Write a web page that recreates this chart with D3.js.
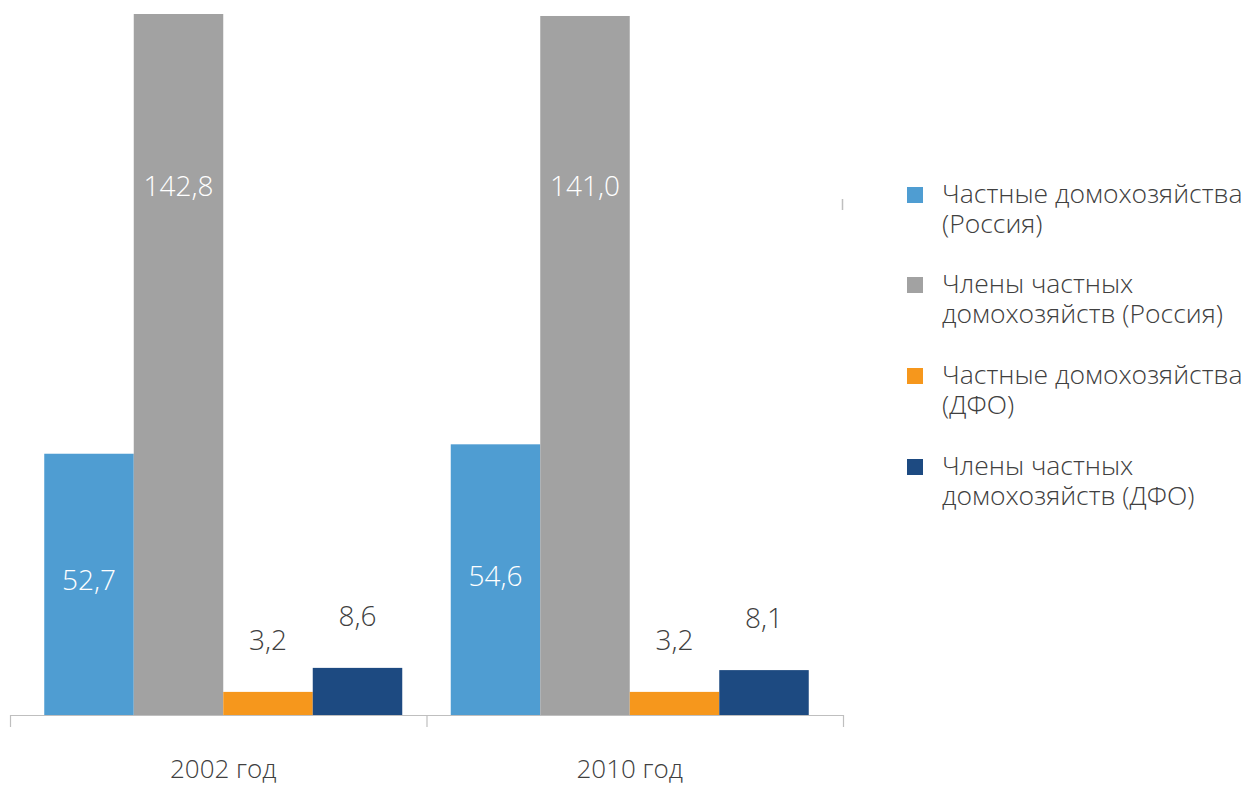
<!DOCTYPE html>
<html>
<head>
<meta charset="utf-8">
<script src="https://cdn.jsdelivr.net/npm/d3@7"></script>
<style>
  html, body { margin: 0; padding: 0; background: #ffffff; }
  svg { display: block; }
  text { font-family: "Open Sans", "Segoe UI", sans-serif; font-weight: 300; }
</style>
</head>
<body>
<svg id="chart" width="1247" height="786"></svg>
<script>
// ---- data ----
const years = ["2002 год", "2010 год"];
const seriesNames = [
  "Частные домохозяйства (Россия)",
  "Члены частных домохозяйств (Россия)",
  "Частные домохозяйства (ДФО)",
  "Члены частных домохозяйств (ДФО)"
];
const legendLines = [
  ["Частные домохозяйства", "(Россия)"],
  ["Члены частных", "домохозяйств (Россия)"],
  ["Частные домохозяйства", "(ДФО)"],
  ["Члены частных", "домохозяйств (ДФО)"]
];
const hhRussia = [52.7, 54.6];
const membersRussia = [142.8, 141.0];
const hhDFO = [3.2, 3.2];
const membersDFO = [8.6, 8.1];
const colors = ["#4f9dd2", "#a2a2a2", "#f6971c", "#1d4a81"];
// which axis each series uses (Russia on primary, ДФО on secondary)
const axisOf = ["primary", "primary", "secondary", "secondary"];

const values = [hhRussia, membersRussia, hhDFO, membersDFO];

// ---- layout ----
const svg = d3.select("#chart");
const plotTop = 14, baseY = 715;
const axisLeft = 10, axisRight = 843;

const x0 = d3.scaleBand().domain(years).range([20, 833]).paddingInner(0).paddingOuter(0);
const x1 = d3.scaleBand().domain(d3.range(seriesNames.length)).range([24.25, 382.25]);
const xAxisScale = d3.scaleBand().domain(years).range([axisLeft, axisRight]);

const yPrimary = d3.scaleLinear().domain([0, 141.4]).range([baseY, plotTop]).clamp(true);
const ySecondary = d3.scaleLinear().domain([-2, 155.7]).range([baseY, plotTop]).clamp(true);
const yFor = i => axisOf[i] === "primary" ? yPrimary : ySecondary;

const txt = "#404040";

// bars
const groups = svg.selectAll("g.year").data(years).enter().append("g")
  .attr("transform", d => `translate(${x0(d)},0)`);

groups.each(function(year, yi) {
  const g = d3.select(this);
  seriesNames.forEach((s, si) => {
    const ys = yFor(si);
    const v = values[si][yi];
    const top = ys(v);
    const bottom = ys(ys.domain()[0]);
    g.append("rect")
      .attr("x", x1(si))
      .attr("y", top)
      .attr("width", x1.bandwidth())
      .attr("height", bottom - top)
      .attr("fill", colors[si]);

    const label = d3.format(".1f")(v).replace(".", ",");
    let ly, fill;
    if (si === 0) { ly = (top + bottom) / 2 + 6; fill = "#ffffff"; }
    else if (si === 1) { ly = plotTop + 182; fill = "#ffffff"; }
    else { ly = top - 42; fill = txt; }
    g.append("text")
      .attr("x", x1(si) + x1.bandwidth() / 2)
      .attr("y", ly)
      .attr("text-anchor", "middle")
      .attr("font-size", 28)
      .attr("fill", fill)
      .text(label);
  });
});

// category axis
const axisColor = "#bfbfbf";
svg.append("line")
  .attr("x1", axisLeft).attr("x2", axisRight)
  .attr("y1", baseY + 0.5).attr("y2", baseY + 0.5)
  .attr("stroke", axisColor).attr("stroke-width", 1.2);
const tickXs = years.map(d => xAxisScale(d)).concat([axisRight]);
svg.selectAll("line.tick").data(tickXs).enter().append("line")
  .attr("x1", d => d + 0.5).attr("x2", d => d + 0.5)
  .attr("y1", baseY).attr("y2", 727)
  .attr("stroke", axisColor).attr("stroke-width", 1.2);

svg.selectAll("text.cat").data(years).enter().append("text")
  .attr("x", d => x0(d) + x0.bandwidth() / 2)
  .attr("y", 778)
  .attr("text-anchor", "middle")
  .attr("font-size", 26)
  .attr("fill", txt)
  .text(d => d);

// secondary axis stub
svg.append("line")
  .attr("x1", axisRight - 0.5).attr("x2", axisRight - 0.5)
  .attr("y1", 199).attr("y2", 210)
  .attr("stroke", axisColor).attr("stroke-width", 1.5);

// legend
const legendBaselines = [203, 293, 384, 475];
const leg = svg.selectAll("g.leg").data(seriesNames).enter().append("g");
leg.append("rect")
  .attr("x", 907).attr("y", (d, i) => legendBaselines[i] - 16)
  .attr("width", 16).attr("height", 16)
  .attr("fill", (d, i) => colors[i]);
leg.each(function(d, i) {
  const t = d3.select(this).append("text")
    .attr("x", 942).attr("y", legendBaselines[i])
    .attr("font-size", 26.5).attr("fill", txt);
  legendLines[i].forEach((line, li) => {
    t.append("tspan").attr("x", 942).attr("dy", li === 0 ? 0 : 30).text(line);
  });
});
</script>
</body>
</html>
